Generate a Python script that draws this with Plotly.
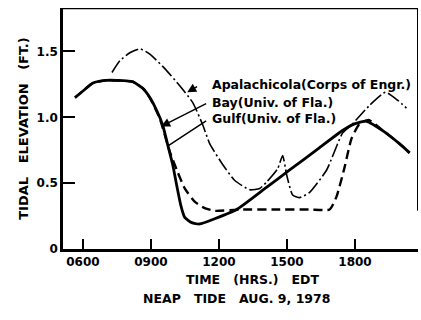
import plotly.graph_objects as go

# Hours (decimal, EDT) and tidal elevations (ft)
bay_hours = [5.65, 6.0, 6.44, 7.0, 7.5, 8.2, 8.64, 8.95, 9.26, 9.52, 9.74, 9.96, 10.14,
             10.32, 10.49, 10.8, 11.15, 11.81, 12.78, 14.11, 15.12, 16.44, 17.45, 17.98,
             18.5, 19.3, 19.96, 20.41]
bay_elev = [1.15, 1.2, 1.26, 1.28, 1.28, 1.27, 1.22, 1.15, 1.05, 0.94, 0.79, 0.64, 0.48,
            0.33, 0.24, 0.2, 0.19, 0.23, 0.3, 0.47, 0.6, 0.77, 0.9, 0.95,
            0.97, 0.89, 0.8, 0.73]

gulf_hours = [5.65, 6.0, 6.44, 7.0, 7.5, 8.2, 8.64, 8.95, 9.39, 9.83, 10.14, 10.49, 10.93,
              11.37, 11.81, 13.0, 14.5, 16.0, 16.88, 17.19, 17.54, 17.85, 18.2, 18.6,
              19.3, 19.96, 20.41]
gulf_elev = [1.15, 1.2, 1.26, 1.28, 1.28, 1.27, 1.22, 1.15, 0.99, 0.74, 0.6, 0.46, 0.36,
             0.31, 0.29, 0.3, 0.3, 0.3, 0.3, 0.4, 0.62, 0.84, 0.95, 0.98,
             0.89, 0.8, 0.73]

apal_hours = [7.28, 7.63, 8.07, 8.51, 8.95, 9.61, 10.27, 10.85, 11.29, 11.59, 12.17, 12.7,
              13.36, 13.8, 14.11, 14.59, 14.81, 14.99, 15.25, 15.56, 16.0, 16.75, 17.45,
              17.89, 18.64, 19.35, 19.88, 20.27]
apal_elev = [1.34, 1.43, 1.49, 1.52, 1.48, 1.37, 1.24, 1.11, 0.94, 0.8, 0.64, 0.52,
             0.45, 0.46, 0.51, 0.61, 0.71, 0.56, 0.41, 0.39, 0.43, 0.6, 0.88,
             0.95, 1.09, 1.19, 1.13, 1.07]

tick_hours = [6, 9, 12, 15, 18]
tick_labels = ["0600", "0900", "1200", "1500", "1800"]
y_ticks = [0, 0.5, 1.0, 1.5]
y_tick_labels = ["0", "0.5", "1.0", "1.5"]

legend_names = ["Apalachicola(Corps of Engr.)", "Bay(Univ. of Fla.)", "Gulf(Univ. of Fla.)"]

FONT = "DejaVu Sans"
INK = "black"

fig = go.Figure()
fig.add_trace(go.Scatter(x=apal_hours, y=apal_elev, mode="lines",
                         line=dict(color=INK, width=1.6, dash="14px,3px,2px,3px",
                                   shape="spline", smoothing=0.5)))
fig.add_trace(go.Scatter(x=gulf_hours, y=gulf_elev, mode="lines",
                         line=dict(color=INK, width=2.4, dash="9px,5px",
                                   shape="spline", smoothing=0.5)))
fig.add_trace(go.Scatter(x=bay_hours, y=bay_elev, mode="lines",
                         line=dict(color=INK, width=2.8, shape="spline", smoothing=0.5)))

x0, x1 = 5.12, 20.78
y0, y1 = 0, 1.83

# Labels with leader arrows
label_x = 11.6
label_y = [1.25, 1.114, 0.992]
arrow_tail = [(11.1, 1.24), (11.5, 1.11), (11.5, 0.98)]
arrow_head = [(10.6, 1.19), (9.45, 0.93), (9.72, 0.78)]
for name, ly, (tx, ty), (hx, hy), head in zip(legend_names, label_y, arrow_tail, arrow_head, [2, 2, 0]):
    fig.add_annotation(x=label_x, y=ly, text=f"<b>{name}</b>", showarrow=False,
                       xanchor="left", yanchor="middle",
                       font=dict(family=FONT, size=12.5, color=INK))
    fig.add_annotation(x=hx, y=hy, ax=tx, ay=ty, axref="x", ayref="y", text="",
                       showarrow=True, arrowhead=head, arrowsize=1.2, arrowwidth=1.5,
                       arrowcolor=INK)

# Frame: top edge and partial right edge
fig.add_shape(type="line", x0=x0, x1=x1, y0=y1, y1=y1, line=dict(color=INK, width=2.5))
fig.add_shape(type="line", x0=x1, x1=x1, y0=0.29, y1=y1, line=dict(color=INK, width=2))

fig.add_annotation(xref="paper", yref="paper", x=0.535, y=-0.165,
                   text="<b>TIME   (HRS.)   EDT</b>", showarrow=False,
                   font=dict(family=FONT, size=12.5, color=INK))
fig.add_annotation(xref="paper", yref="paper", x=0.49, y=-0.245,
                   text="<b>NEAP   TIDE   AUG. 9, 1978</b>", showarrow=False,
                   font=dict(family=FONT, size=12.5, color=INK))

fig.update_layout(
    width=421, height=320,
    margin=dict(l=63, r=3, t=8, b=71),
    paper_bgcolor="white", plot_bgcolor="white",
    showlegend=False,
    font=dict(family=FONT, color=INK),
    xaxis=dict(range=[x0, x1], tickvals=tick_hours,
               ticktext=[f"<b>{t}</b>" for t in tick_labels],
               ticks="inside", ticklen=10, tickwidth=2, tickcolor=INK,
               showline=True, linecolor=INK, linewidth=2.5,
               showgrid=False, zeroline=False,
               tickfont=dict(family=FONT, size=12, color=INK)),
    yaxis=dict(range=[y0, y1], tickvals=y_ticks,
               ticktext=[f"<b>{t}</b>" for t in y_tick_labels],
               ticks="inside", ticklen=12, tickwidth=2, tickcolor=INK,
               showline=True, linecolor=INK, linewidth=2.5,
               showgrid=False, zeroline=False,
               tickfont=dict(family=FONT, size=12, color=INK),
               title=dict(text="<b>TIDAL   ELEVATION   (FT.)</b>",
                          font=dict(family=FONT, size=13, color=INK),
                          standoff=6)),
)

fig.write_html("out.html")
